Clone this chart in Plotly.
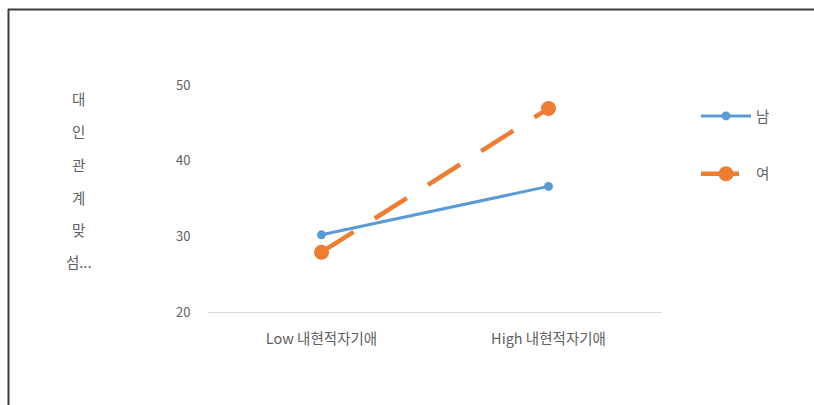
import plotly.graph_objects as go

categories = ["Low 내현적자기애", "High 내현적자기애"]
series_names = ["남", "여"]
male_values = [30.2, 36.6]
female_values = [27.9, 46.9]
y_title_chars = ["대", "인", "관", "계", "맞", "섬..."]
y_ticks = [20, 30, 40, 50]

W, H = 814, 405
L, R, T, B = 208, 152, 85, 93
PW, PH = W - L - R, H - T - B

FONT = "Noto Sans CJK KR"
GREY = "#606060"

fig = go.Figure()
fig.add_trace(go.Scatter(
    x=categories, y=male_values, name=series_names[0], mode="lines+markers",
    line=dict(color="#5B9BD5", width=3), marker=dict(size=9, color="#5B9BD5"),
    legendgroup="a"))
fig.add_trace(go.Scatter(
    x=categories, y=female_values, name=series_names[1], mode="lines+markers",
    line=dict(color="#ED7D31", width=4.5, dash="38px,25px"),
    marker=dict(size=15, color="#ED7D31"), legendgroup="b"))

def px_x(px):
    return (px - L) / PW

def px_y(py):
    return (H - B - py) / PH

annotations = []
ys = [98, 131, 164, 197, 229, 261]
for ch, py in zip(y_title_chars, ys):
    annotations.append(dict(text=ch, x=px_x(78), y=px_y(py), xref="paper", yref="paper",
                            showarrow=False, xanchor="center", yanchor="middle",
                            font=dict(family=FONT, size=14.5, color=GREY)))

fig.update_layout(
    width=W, height=H,
    margin=dict(l=L, r=R, t=T, b=B, autoexpand=False),
    paper_bgcolor="white", plot_bgcolor="white",
    font=dict(family=FONT, size=12, color=GREY),
    showlegend=True,
    legend=dict(x=px_x(696), y=px_y(100), xanchor="left", yanchor="top",
                traceorder="grouped", tracegroupgap=36, itemwidth=50,
                font=dict(family=FONT, size=14.5, color=GREY),
                bgcolor="rgba(0,0,0,0)"),
    xaxis=dict(range=[-0.5, 1.5], showgrid=False, zeroline=False, showline=True,
               linecolor="#d9d9d9", linewidth=1, ticks="outside", ticklen=14,
               tickcolor="rgba(0,0,0,0)", tickfont=dict(family=FONT, size=14.5, color=GREY),
               fixedrange=True),
    yaxis=dict(range=[20, 50], tickvals=y_ticks, showgrid=False, zeroline=False,
               showline=False, ticks="outside", ticklen=14, tickcolor="rgba(0,0,0,0)",
               tickfont=dict(family=FONT, size=13, color=GREY)),
    annotations=annotations,
    shapes=[
        dict(type="line", xref="paper", yref="paper", x0=px_x(8), x1=px_x(W + 5),
             y0=px_y(9.5), y1=px_y(9.5), line=dict(color="#3a3a3a", width=2)),
        dict(type="line", xref="paper", yref="paper", x0=px_x(8.5), x1=px_x(8.5),
             y0=px_y(9), y1=px_y(H + 5), line=dict(color="#3a3a3a", width=2)),
    ],
)
fig.write_html("out.html")
